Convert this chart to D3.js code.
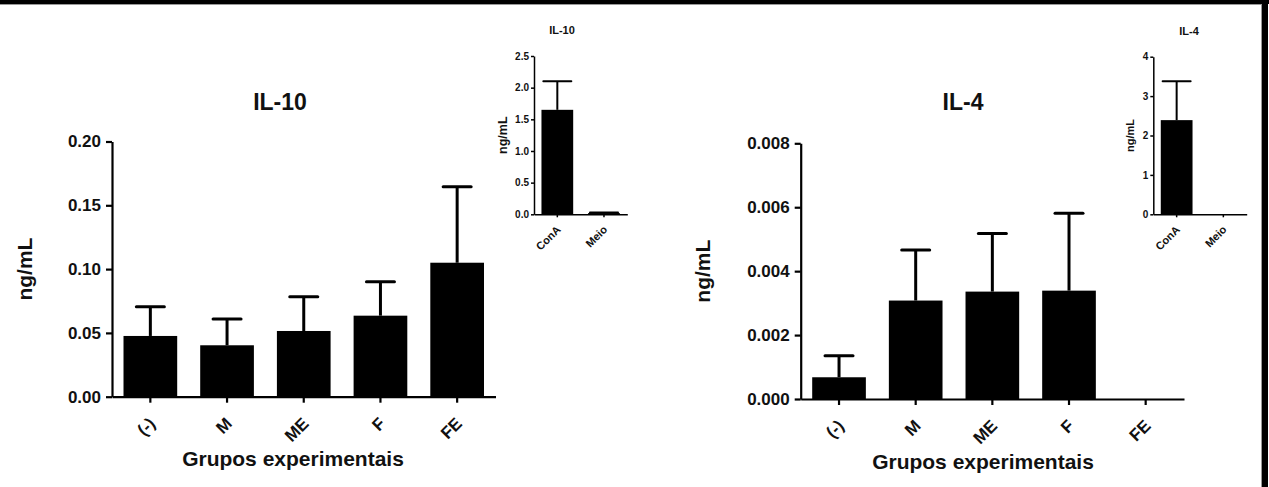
<!DOCTYPE html>
<html>
<head>
<meta charset="utf-8">
<script src="https://cdn.jsdelivr.net/npm/d3@7"></script>
<style>
  html, body { margin: 0; padding: 0; background: #fff; }
  svg { display: block; }
  text { font-family: "Liberation Sans", Arial, sans-serif; font-weight: bold; fill: #111; }
</style>
</head>
<body>
<svg id="chart" width="1269" height="487"></svg>
<script>
// ---------- DATA ----------
const groups = ["(-)", "M", "ME", "F", "FE"];
const il10Means = [0.0476, 0.0403, 0.0515, 0.0635, 0.105];
const il10Errors = [0.0229, 0.0206, 0.0269, 0.0266, 0.0596];
const il10Ticks = [0, 0.05, 0.10, 0.15, 0.20];

const il4Means = [0.00068, 0.00308, 0.00336, 0.00339, 0];
const il4Errors = [0.00067, 0.00158, 0.00182, 0.00242, 0];
const il4Ticks = [0, 0.002, 0.004, 0.006, 0.008];

const controlGroups = ["ConA", "Meio"];
const il10CtrlMeans = [1.65, 0.02];
const il10CtrlErrors = [0.45, 0.01];
const il10CtrlTicks = [0, 0.5, 1.0, 1.5, 2.0, 2.5];

const il4CtrlMeans = [2.39, 0];
const il4CtrlErrors = [0.99, 0];
const il4CtrlTicks = [0, 1, 2, 3, 4];

const yLabel = "ng/mL";
const xLabel = "Grupos experimentais";

// ---------- DRAW ----------
const svg = d3.select("#chart");

// frame (top and right border)
svg.append("rect").attr("x", 0).attr("y", 0).attr("width", 1269).attr("height", 4).attr("fill", "#000");
svg.append("rect").attr("x", 0).attr("y", 4).attr("width", 1262).attr("height", 1).attr("fill", "#999");
svg.append("rect").attr("x", 1262).attr("y", 0).attr("width", 6).attr("height", 487).attr("fill", "#000");
svg.append("rect").attr("x", 1261).attr("y", 4).attr("width", 1).attr("height", 483).attr("fill", "#999");

function panel(o) {
  const g = svg.append("g");
  const x = d3.scaleBand().domain(o.cats).range([o.x0, o.x1])
    .paddingInner(o.padIn).paddingOuter(o.padOut);
  const y = d3.scaleLinear().domain([o.ticks[0], o.ticks[o.ticks.length - 1]]).range([o.yb, o.yt]);

  // bars
  g.selectAll("rect.bar").data(o.means).join("rect")
    .attr("class", "bar")
    .attr("x", (d, i) => x(o.cats[i]))
    .attr("y", d => y(d))
    .attr("width", x.bandwidth())
    .attr("height", d => y(0) - y(d))
    .attr("fill", "#000");

  // error bars (upper only)
  const eb = g.selectAll("g.err").data(o.means.map((m, i) => ({ m, e: o.errs[i], c: o.cats[i] })).filter(d => d.e > 0))
    .join("g").attr("class", "err");
  eb.append("line")
    .attr("x1", d => x(d.c) + x.bandwidth() / 2).attr("x2", d => x(d.c) + x.bandwidth() / 2)
    .attr("y1", d => y(d.m)).attr("y2", d => y(d.m + d.e))
    .attr("stroke", "#000").attr("stroke-width", o.ew);
  eb.append("line")
    .attr("x1", d => x(d.c) + x.bandwidth() / 2 - o.cap / 2).attr("x2", d => x(d.c) + x.bandwidth() / 2 + o.cap / 2)
    .attr("y1", d => y(d.m + d.e)).attr("y2", d => y(d.m + d.e))
    .attr("stroke", "#000").attr("stroke-width", o.ew).attr("stroke-linecap", "round");

  // y axis
  const ya = g.append("g").attr("transform", `translate(${o.x0},0)`)
    .call(d3.axisLeft(y).tickValues(o.ticks).tickFormat(d3.format(o.fmt)).tickSize(o.tick).tickPadding(o.tpad).tickSizeOuter(0));
  ya.select(".domain").attr("stroke", "#000").attr("stroke-width", o.aw);
  ya.selectAll(".tick line").attr("stroke", "#000").attr("stroke-width", o.aw);
  ya.selectAll(".tick text").style("font-size", o.tfs + "px").attr("fill", "#111");

  // x axis
  const xa = g.append("g").attr("transform", `translate(0,${o.yb})`)
    .call(d3.axisBottom(x).tickSize(o.tick).tickSizeOuter(0));
  xa.select(".domain").attr("stroke", "#000").attr("stroke-width", o.aw);
  xa.selectAll(".tick line").attr("stroke", "#000").attr("stroke-width", o.aw);
  xa.selectAll(".tick text")
    .style("font-size", o.xfs + "px")
    .attr("text-anchor", "end")
    .attr("y", 0).attr("dy", 0)
    .attr("transform", `translate(${o.xlx},${o.xly}) rotate(-45)`);

  // title
  g.append("text").attr("x", o.titleX).attr("y", o.titleY).attr("text-anchor", "middle")
    .style("font-size", o.titleFs + "px").text(o.title);
  // y label
  g.append("text").attr("transform", `translate(${o.ylx},${(o.yb + o.yt) / 2 + o.yldy}) rotate(-90)`)
    .attr("text-anchor", "middle").style("font-size", o.ylfs + "px").text(yLabel);
  // x label
  if (o.xlabel) {
    g.append("text").attr("x", o.xlabX).attr("y", o.xlabY).attr("text-anchor", "middle")
      .style("font-size", "21px").text(o.xlabel);
  }
}

// IL-10 main
panel({
  cats: groups, means: il10Means, errs: il10Errors, ticks: il10Ticks, fmt: ".2f",
  x0: 112, x1: 495.5, yb: 396.7, yt: 141.5, padIn: 0.3, padOut: 0.15,
  ew: 3, cap: 28, aw: 2.2, tick: 6, tpad: 5, tfs: 17, xfs: 17, xlx: 6, xly: 28,
  title: "IL-10", titleX: 280, titleY: 110, titleFs: 23,
  ylx: 32, yldy: 0, ylfs: 21, xlabel: xLabel, xlabX: 293, xlabY: 466
});

// IL-4 main
panel({
  cats: groups, means: il4Means, errs: il4Errors, ticks: il4Ticks, fmt: ".3f",
  x0: 800.7, x1: 1184, yb: 399, yt: 143.3, padIn: 0.3, padOut: 0.15,
  ew: 3, cap: 28, aw: 2.2, tick: 6, tpad: 5, tfs: 17, xfs: 17, xlx: 6, xly: 28,
  title: "IL-4", titleX: 963, titleY: 110, titleFs: 23,
  ylx: 710, yldy: 0, ylfs: 21, xlabel: xLabel, xlabX: 983, xlabY: 469
});

// IL-10 inset
panel({
  cats: controlGroups, means: il10CtrlMeans, errs: il10CtrlErrors, ticks: il10CtrlTicks, fmt: ".1f",
  x0: 534, x1: 627.3, yb: 214.3, yt: 56, padIn: 0.32, padOut: 0.16,
  ew: 2, cap: 28, aw: 1.5, tick: 3, tpad: 2, tfs: 10, xfs: 11, xlx: 4, xly: 16,
  title: "IL-10", titleX: 562, titleY: 34, titleFs: 11,
  ylx: 507, yldy: 0, ylfs: 12.5, xlabel: null
});

// IL-4 inset
panel({
  cats: controlGroups, means: il4CtrlMeans, errs: il4CtrlErrors, ticks: il4CtrlTicks, fmt: "d",
  x0: 1153.3, x1: 1246.7, yb: 214.3, yt: 56.7, padIn: 0.32, padOut: 0.16,
  ew: 2, cap: 28, aw: 1.5, tick: 3, tpad: 2, tfs: 10, xfs: 11, xlx: 4, xly: 16,
  title: "IL-4", titleX: 1189, titleY: 35, titleFs: 11,
  ylx: 1134, yldy: 0, ylfs: 11, xlabel: null
});
</script>
</body>
</html>
